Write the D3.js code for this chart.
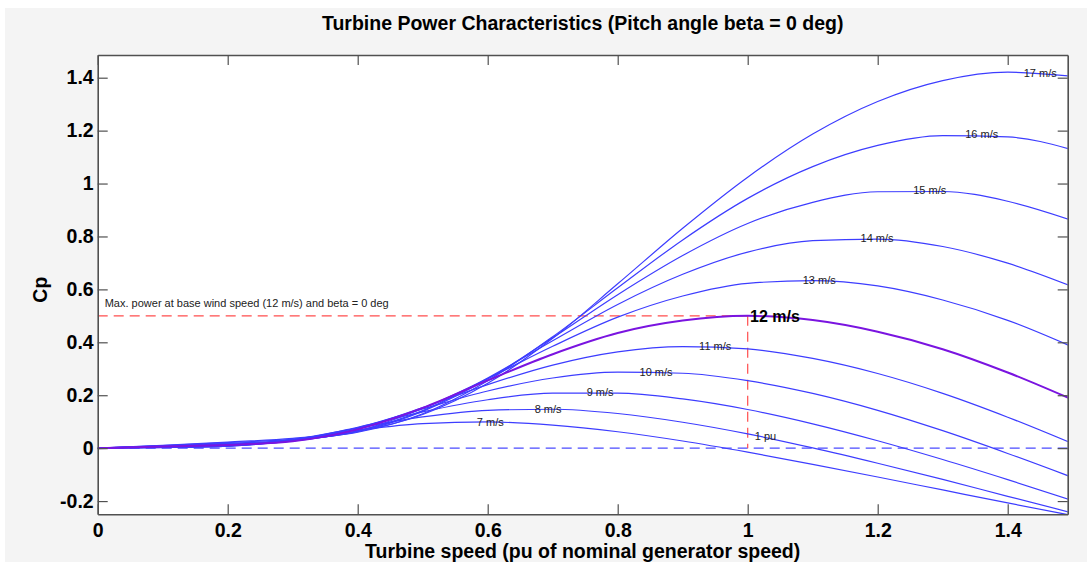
<!DOCTYPE html>
<html>
<head>
<meta charset="utf-8">
<script src="https://cdn.jsdelivr.net/npm/d3@7"></script>
<style>
  body { margin: 0; background: #ffffff; }
  svg { display: block; font-family: "Liberation Sans", Arial, sans-serif; }
</style>
</head>
<body>
<div id="chart"></div>
<script>
// turbine speed (pu) sample points
const speedPu = [0, 0.1, 0.2, 0.3, 0.4, 0.5, 0.6, 0.7, 0.8, 0.9, 1.0, 1.1, 1.2, 1.3, 1.4, 1.5];

// power (pu) for each wind speed
const pu7  = [0, 0.002, 0.008, 0.033, 0.068, 0.093, 0.099, 0.087, 0.062, 0.027, -0.015, -0.061, -0.109, -0.158, -0.207, -0.255];
const pu8  = [0, 0.003, 0.008, 0.032, 0.076, 0.118, 0.143, 0.147, 0.131, 0.098, 0.054, 0.001, -0.057, -0.118, -0.182, -0.245];
const pu9  = [0, 0.003, 0.008, 0.030, 0.079, 0.137, 0.183, 0.208, 0.208, 0.186, 0.146, 0.092, 0.028, -0.043, -0.119, -0.198];
const pu10 = [0, 0.004, 0.009, 0.028, 0.077, 0.148, 0.216, 0.265, 0.287, 0.283, 0.255, 0.207, 0.143, 0.066, -0.020, -0.111];
const pu11 = [0, 0.005, 0.010, 0.027, 0.074, 0.153, 0.240, 0.314, 0.364, 0.384, 0.375, 0.339, 0.282, 0.207, 0.117, 0.017];
const pu12 = [0, 0.006, 0.012, 0.026, 0.071, 0.152, 0.256, 0.355, 0.435, 0.482, 0.500, 0.484, 0.440, 0.374, 0.286, 0.183];
const pu13 = [0, 0.007, 0.014, 0.027, 0.065, 0.150, 0.263, 0.385, 0.495, 0.575, 0.623, 0.633, 0.613, 0.560, 0.483, 0.382];
const pu14 = [0, 0.008, 0.016, 0.028, 0.065, 0.142, 0.265, 0.406, 0.543, 0.657, 0.741, 0.784, 0.790, 0.762, 0.699, 0.610];
const pu15 = [0, 0.009, 0.018, 0.030, 0.062, 0.139, 0.261, 0.417, 0.580, 0.728, 0.849, 0.929, 0.969, 0.970, 0.933, 0.860];
const pu16 = [0, 0.010, 0.021, 0.033, 0.060, 0.130, 0.255, 0.421, 0.606, 0.787, 0.944, 1.064, 1.144, 1.181, 1.176, 1.127];
const pu17 = [0, 0.011, 0.023, 0.037, 0.063, 0.127, 0.245, 0.415, 0.621, 0.831, 1.024, 1.187, 1.310, 1.389, 1.421, 1.405];

const windSpeeds = [7, 8, 9, 10, 11, 12, 13, 14, 15, 16, 17];
const powerSeries = [pu7, pu8, pu9, pu10, pu11, pu12, pu13, pu14, pu15, pu16, pu17];

// where each curve label sits (speed pu, power pu)
const labelSpeed = [0.604, 0.693, 0.773, 0.859, 0.950, 1.042, 1.110, 1.199, 1.280, 1.360, 1.450];
const labelPower = [0.098, 0.147, 0.212, 0.287, 0.384, 0.499, 0.635, 0.794, 0.975, 1.187, 1.416];

const xTicks = [0, 0.2, 0.4, 0.6, 0.8, 1, 1.2, 1.4];
const yTicks = [-0.2, 0, 0.2, 0.4, 0.6, 0.8, 1, 1.2, 1.4];

const basePower = 0.5;   // max power at base wind speed
const baseSpeed = 1;     // 1 pu

const W = 1087, H = 562;
const svg = d3.select('#chart').append('svg').attr('width', W).attr('height', H);

svg.append('rect').attr('x', 5).attr('y', 8).attr('width', W - 5).attr('height', H - 8).attr('fill', '#f4f4f4');

const pLeft = 97.7, pRight = 1067.7, pTop = 55, pBottom = 514.3;

const x = d3.scaleLinear().domain([0, 1.4923]).range([pLeft, pRight]);
const y = d3.scaleLinear().domain([-0.25, 1.4858]).range([pBottom, pTop]);

svg.append('rect').attr('x', pLeft).attr('y', pTop).attr('width', pRight - pLeft).attr('height', pBottom - pTop).attr('fill', '#fff');

svg.append('clipPath').attr('id', 'clip')
  .append('rect').attr('x', pLeft).attr('y', pTop).attr('width', pRight - pLeft).attr('height', pBottom - pTop);

const plot = svg.append('g').attr('clip-path', 'url(#clip)');

// zero line
plot.append('line')
  .attr('x1', x(0)).attr('x2', pRight)
  .attr('y1', y(0)).attr('y2', y(0))
  .attr('stroke', '#4b4bff').attr('stroke-width', 1.2).attr('stroke-dasharray', '10,6');

// base point guides
plot.append('line')
  .attr('x1', x(0)).attr('x2', x(baseSpeed))
  .attr('y1', y(basePower)).attr('y2', y(basePower))
  .attr('stroke', '#ff4d4d').attr('stroke-width', 1.2).attr('stroke-dasharray', '10,6');
plot.append('line')
  .attr('x1', x(baseSpeed)).attr('x2', x(baseSpeed))
  .attr('y1', y(basePower)).attr('y2', y(0))
  .attr('stroke', '#ff4d4d').attr('stroke-width', 1.2).attr('stroke-dasharray', '10,6');

const line = d3.line()
  .x((d, i) => x(speedPu[i]))
  .y(d => y(d))
  .curve(d3.curveMonotoneX);

powerSeries.forEach((s, k) => {
  if (windSpeeds[k] === 12) return;
  plot.append('path').datum(s)
    .attr('d', line)
    .attr('fill', 'none')
    .attr('stroke', '#3d3dff')
    .attr('stroke-width', 1.2);
});

plot.append('path').datum(pu12)
  .attr('d', line)
  .attr('fill', 'none')
  .attr('stroke', '#7a14e0')
  .attr('stroke-width', 2);

// curve labels
windSpeeds.forEach((v, k) => {
  const bold = v === 12;
  svg.append('text')
    .attr('x', x(labelSpeed[k]))
    .attr('y', y(labelPower[k]))
    .attr('dy', '0.35em')
    .attr('text-anchor', 'middle')
    .attr('font-size', bold ? 16 : 11)
    .attr('font-weight', bold ? 'bold' : 'normal')
    .attr('fill', bold ? '#000' : '#222')
    .text(v + ' m/s');
});

svg.append('text')
  .attr('x', x(0) + 7).attr('y', y(basePower) - 13)
  .attr('dy', '0.35em')
  .attr('font-size', 11).attr('fill', '#222')
  .text('Max. power at base wind speed (12 m/s) and beta = 0 deg');

svg.append('text')
  .attr('x', x(baseSpeed) + 7).attr('y', y(0) - 12)
  .attr('dy', '0.35em')
  .attr('font-size', 11).attr('fill', '#222')
  .text('1 pu');

// axes, ticks pointing inwards on all four sides
const fmt = d => String(d);

const gx = svg.append('g').attr('transform', `translate(0,${pBottom})`)
  .call(d3.axisBottom(x).tickValues(xTicks).tickFormat(fmt).tickSize(-10).tickSizeOuter(0).tickPadding(9));
const gxTop = svg.append('g').attr('transform', `translate(0,${pTop})`)
  .call(d3.axisTop(x).tickValues(xTicks).tickFormat('').tickSize(-10).tickSizeOuter(0));
const gy = svg.append('g').attr('transform', `translate(${pLeft},0)`)
  .call(d3.axisLeft(y).tickValues(yTicks).tickFormat(fmt).tickSize(-10).tickSizeOuter(0).tickPadding(4));
const gyRight = svg.append('g').attr('transform', `translate(${pRight},0)`)
  .call(d3.axisRight(y).tickValues(yTicks).tickFormat('').tickSize(-10).tickSizeOuter(0));

[gx, gxTop, gy, gyRight].forEach(g => {
  g.select('.domain').attr('stroke', '#505050').attr('stroke-width', 1.6);
  g.selectAll('.tick line').attr('stroke', '#505050').attr('stroke-width', 1.2);
  g.selectAll('.tick text')
    .attr('fill', '#000')
    .attr('font-size', 19.5)
    .attr('font-weight', 'bold')
    .attr('font-family', '"Liberation Sans", Arial, sans-serif');
});

svg.append('text')
  .attr('x', (pLeft + pRight) / 2).attr('y', 30)
  .attr('text-anchor', 'middle')
  .attr('font-size', 19.5).attr('font-weight', 'bold')
  .text('Turbine Power Characteristics (Pitch angle beta = 0 deg)');

svg.append('text')
  .attr('x', (pLeft + pRight) / 2).attr('y', 558)
  .attr('text-anchor', 'middle')
  .attr('font-size', 19.5).attr('font-weight', 'bold')
  .text('Turbine speed (pu of nominal generator speed)');

svg.append('text')
  .attr('transform', `translate(47,${(pTop + pBottom) / 2 + 5}) rotate(-90)`)
  .attr('text-anchor', 'middle')
  .attr('font-size', 19.5).attr('font-weight', 'bold')
  .text('Cp');
</script>
</body>
</html>
